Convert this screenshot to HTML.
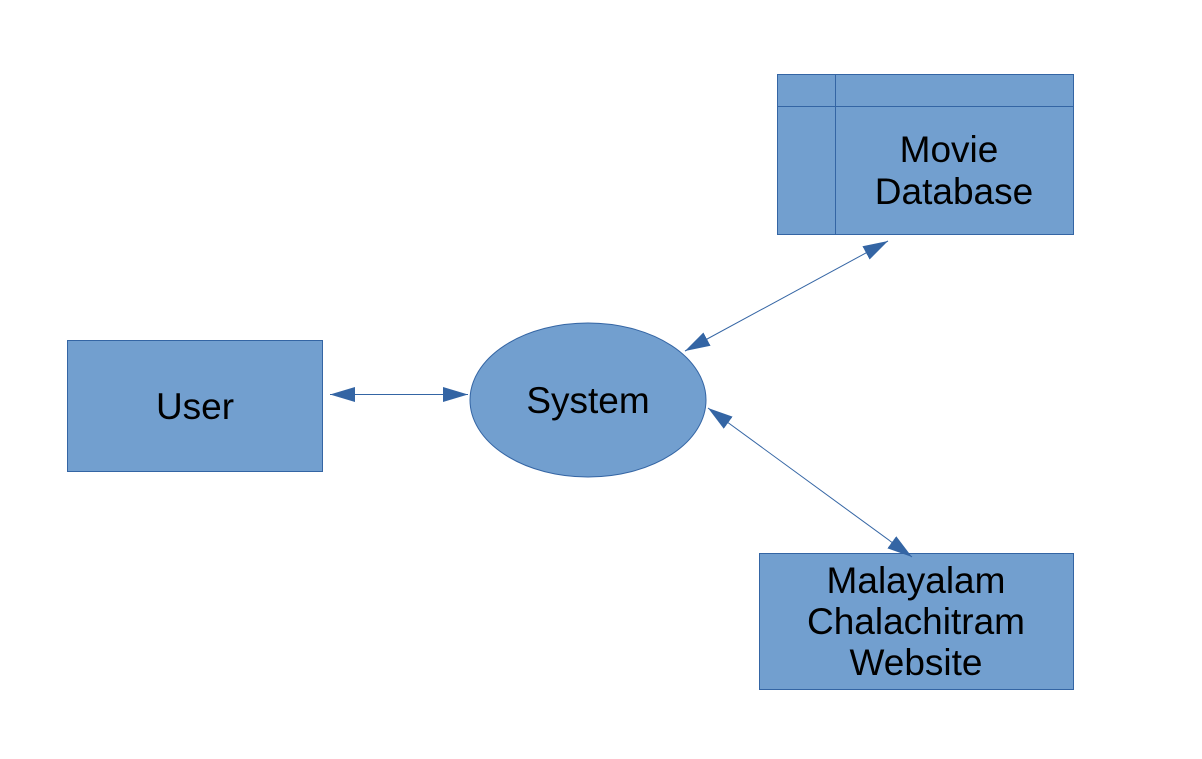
<!DOCTYPE html>
<html><head><meta charset="utf-8"><style>body{margin:0;background:#fff}</style></head>
<body>
<svg width="1202" height="754" xmlns="http://www.w3.org/2000/svg" font-family="Liberation Sans, sans-serif" font-size="37" fill="#000">
<defs>
<marker id="a" viewBox="0 0 10 10" refX="10" refY="5" markerWidth="25" markerHeight="15" markerUnits="userSpaceOnUse" orient="auto-start-reverse" preserveAspectRatio="none"><path d="M0,0L10,5L0,10z" fill="#3465a4"/></marker>
</defs>
<rect x="67.5" y="340.5" width="255" height="131" fill="#729fcf" stroke="#3465a4"/>
<text x="195" y="419" text-anchor="middle">User</text>
<ellipse cx="588" cy="400" rx="118" ry="77" fill="#729fcf" stroke="#3465a4"/>
<text x="588" y="413" text-anchor="middle">System</text>
<rect x="777.5" y="74.5" width="296" height="160" fill="#729fcf" stroke="#3465a4"/>
<line x1="777" y1="106.5" x2="1073" y2="106.5" stroke="#3465a4"/>
<line x1="835.5" y1="74" x2="835.5" y2="234" stroke="#3465a4"/>
<text x="949" y="162" text-anchor="middle">Movie</text>
<text x="954" y="204" text-anchor="middle">Database</text>
<rect x="759.5" y="553.5" width="314" height="136" fill="#729fcf" stroke="#3465a4"/>
<text x="916" y="593" text-anchor="middle">Malayalam</text>
<text x="916" y="634" text-anchor="middle">Chalachitram</text>
<text x="916" y="675" text-anchor="middle">Website</text>
<g stroke="#3465a4" stroke-width="1">
<line x1="330" y1="394.5" x2="468" y2="394.5" marker-start="url(#a)" marker-end="url(#a)"/>
<line x1="685" y1="351" x2="888" y2="241" marker-start="url(#a)" marker-end="url(#a)"/>
<line x1="708" y1="408" x2="912" y2="557" marker-start="url(#a)" marker-end="url(#a)"/>
</g>
</svg>
</body></html>
